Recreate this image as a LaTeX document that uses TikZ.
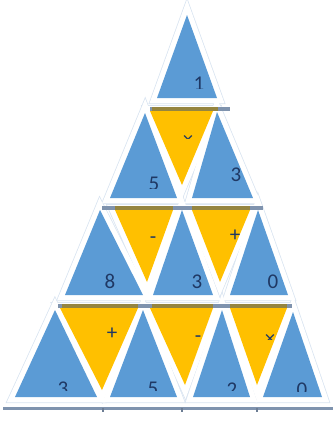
\documentclass[tikz,border=0pt]{standalone}
\usepackage{fontspec}
\setmainfont{Carlito}
\definecolor{tblue}{HTML}{5B9BD5}
\definecolor{tyellow}{HTML}{FFC000}
\definecolor{tink}{HTML}{1F3864}
\definecolor{halo}{HTML}{D9E4F1}
\definecolor{olive}{HTML}{958540}
\definecolor{slate}{HTML}{7F93AE}
\tikzset{
  lab/.style={inner sep=0pt, text=tink, font=\fontsize{21}{25}\selectfont},
  stripcol/.style={fill=slate},
  olivecol/.style={fill=olive}
}
\newcommand\lbl[5]{%
  \begin{scope}
    \clip (#2-15,#3-30) rectangle (#2+15,#4);
    \node[lab,anchor=base] (#1) at (#2,#3) {#5};
  \end{scope}}
\def\bluelist{187/15/157/98/217/98, 145/113/110/198/177/198, 217/112/192/198/253/198, 100/210/65/295/143/295, 182/210/153/295/213/295, 258/210/230/295/288/295, 55/310/15/397/97/397, 143/310/110/397/177/397, 222/310/193/397/250/397, 293/312/263/397/322/397}
\def\yellowlist{182/185/150/111/213/111, 147/282/115/210/173/210, 220/282/192/210/250/210, 102/390/60/308/138/308, 185/385/150/308/213/308, 257/385/230/308/287/308}
\begin{document}
\begin{tikzpicture}[x=1pt,y=-1pt]
\useasboundingbox (0,0) rectangle (333,421);
% halos
\foreach \a/\b/\c/\d/\e/\f in \bluelist {
  \draw[halo, line width=12pt, line join=miter] (\a,\b) -- (\c,\d) -- (\e,\f) -- cycle;}
\foreach \a/\b/\c/\d/\e/\f in \yellowlist {
  \draw[halo, line width=12pt, line join=miter] (\a,\b) -- (\c,\d) -- (\e,\f) -- cycle;}
\foreach \a/\b/\c/\d/\e/\f in \bluelist {
  \draw[white, line width=10.5pt, line join=miter] (\a,\b) -- (\c,\d) -- (\e,\f) -- cycle;}
\foreach \a/\b/\c/\d/\e/\f in \yellowlist {
  \draw[white, line width=10.5pt, line join=miter] (\a,\b) -- (\c,\d) -- (\e,\f) -- cycle;}
% fills
\foreach \a/\b/\c/\d/\e/\f in \bluelist {
  \fill[tblue] (\a,\b) -- (\c,\d) -- (\e,\f) -- cycle;}
\foreach \a/\b/\c/\d/\e/\f in \yellowlist {
  \fill[tyellow] (\a,\b) -- (\c,\d) -- (\e,\f) -- cycle;}
% shadow strips at the top of rows
\fill[stripcol] (150,106.5) rectangle (230,110.5);
\fill[olivecol] (152,106.5) rectangle (218,110.5);
\fill[stripcol] (102,206) rectangle (263,209.5);
\fill[olivecol] (115,206) rectangle (173,209.5);
\fill[olivecol] (192,206) rectangle (250,209.5);
\fill[stripcol] (58,304) rectangle (292,307.5);
\fill[olivecol] (62,304) rectangle (138,307.5);
\fill[olivecol] (152,304) rectangle (213,307.5);
\fill[olivecol] (230,304) rectangle (287,307.5);
% bottom line and ticks
\fill[slate] (3,407) rectangle (333,409.5);
\foreach \t in {103,182,257} {\fill[slate!85!black] (\t-1.2,408) rectangle (\t+1.2,412);}
% labels
\lbl{t1}{199}{90}{88}{1}
\lbl{t2a}{154}{190}{188}{5}
\lbl{t2b}{236}{181}{200}{3}
\lbl{o2a}{188}{146}{138}{×}
\lbl{t3a}{110}{288}{300}{8}
\lbl{t3b}{197}{288}{300}{3}
\lbl{t3c}{273}{288}{300}{0}
\lbl{o3a}{153}{243}{300}{-}
\lbl{o3b}{235}{241.6}{239}{+}
\lbl{t4a}{63}{395}{390}{3}
\lbl{t4b}{153}{395}{390}{5}
\lbl{t4c}{232}{396}{390}{2}
\lbl{t4d}{302}{396}{391}{0}
\lbl{o4a}{112}{339.6}{400}{+}
\lbl{o4b}{198}{342.6}{400}{-}
\lbl{o4c}{270}{345}{339}{×}
\end{tikzpicture}
\end{document}
